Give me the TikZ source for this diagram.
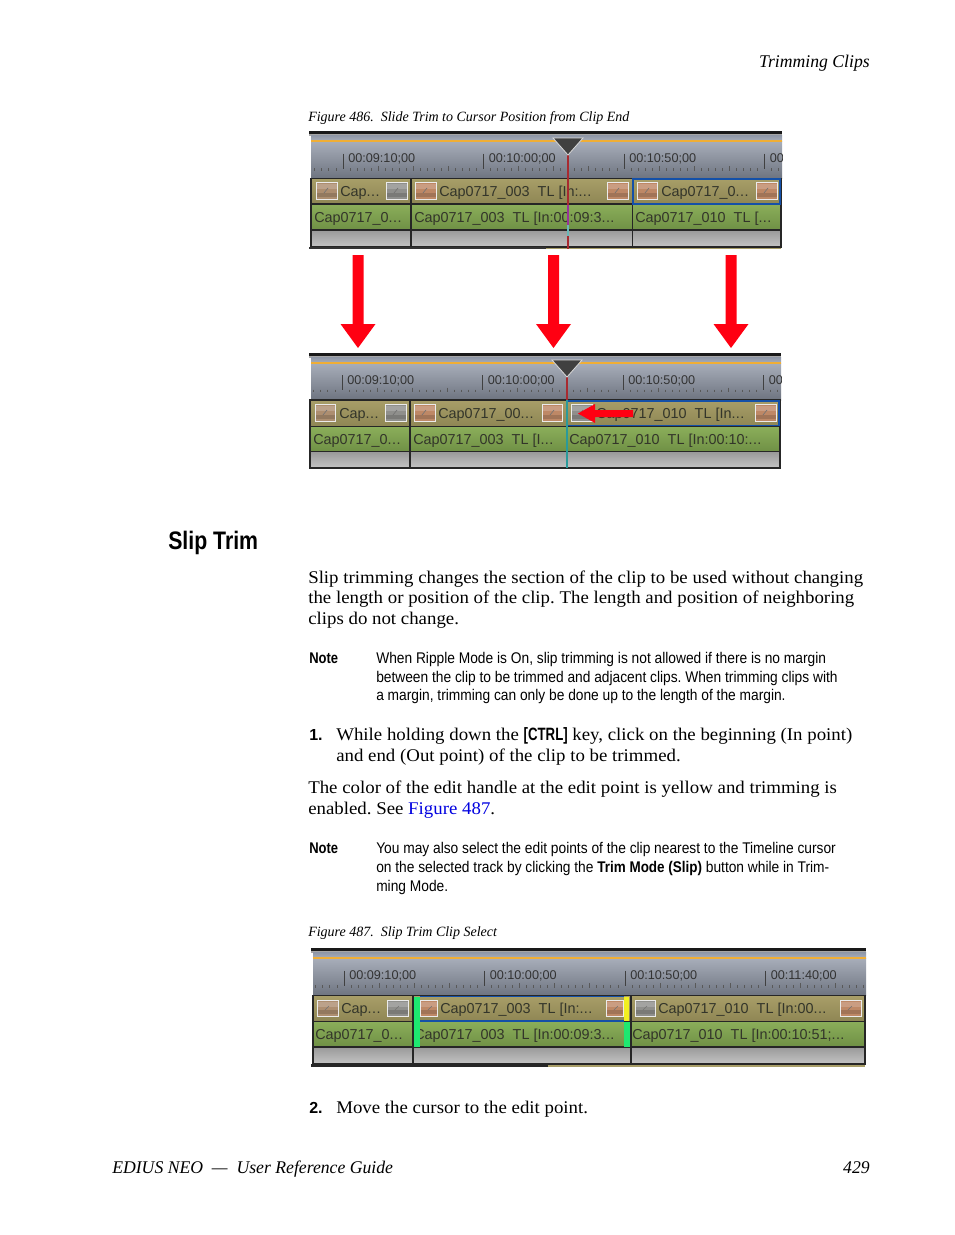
\documentclass[tikz,border=0pt]{standalone}
\usepackage{fontspec}
\setmainfont[FakeStretch=1.055,ItalicFeatures={FakeStretch=0.99}]{Liberation Serif}
\newfontfamily\nsans[FakeStretch=0.89,BoldFeatures={FakeStretch=0.87}]{Liberation Sans}
\newfontfamily\hsans[FakeStretch=0.84]{Liberation Sans}
\newfontfamily\ksans[FakeStretch=0.74]{Liberation Sans}
\newfontfamily\uisans{Liberation Sans}
\definecolor{rulerT}{HTML}{8E96A6}
\definecolor{rulerB}{HTML}{A8AEBA}
\definecolor{rulerD}{HTML}{6E7480}
\definecolor{orng}{HTML}{F0AE35}
\definecolor{oliveT}{HTML}{A89E68}
\definecolor{oliveB}{HTML}{8E8654}
\definecolor{greenT}{HTML}{8BAE5A}
\definecolor{greenB}{HTML}{6F9045}
\definecolor{grayT}{HTML}{999999}
\definecolor{grayB}{HTML}{C4C4C4}
\definecolor{txtui}{HTML}{33352A}
\definecolor{thA}{HTML}{BE8866}
\definecolor{thB}{HTML}{8F8F8C}
\definecolor{thC}{HTML}{AD8E70}
\definecolor{selblue}{HTML}{1450A8}
\definecolor{capred}{HTML}{FF0012}
\definecolor{lnk}{HTML}{0000E0}
\definecolor{cursorred}{HTML}{A82A30}
\definecolor{cursorteal}{HTML}{2A9A9A}
\definecolor{hgreen}{HTML}{1EE870}
\definecolor{hyellow}{HTML}{F2F020}
\newcommand{\dd}{.\hspace{0.03em}.\hspace{0.03em}.}
\tikzset{
  x=0.75pt,y=-0.75pt,
  bodytxt/.style={anchor=base west,inner sep=0,font=\fontsize{13.4}{15}\selectfont},
  figcap/.style={anchor=base west,inner sep=0,font=\fontsize{10.6}{12}\selectfont\itshape},
  notetxt/.style={anchor=base west,inner sep=0,font=\fontsize{11.6}{13}\selectfont\nsans},
  uitxt/.style={anchor=base west,inner sep=0,text=txtui,font=\fontsize{10.8}{12}\selectfont\uisans},
  rultxt/.style={anchor=base west,inner sep=0,text=black!80,font=\fontsize{9.5}{11}\selectfont\uisans},
  bigarrow/.style={fill=capred,draw=none},
  thumbf/.style={draw=white!92!black,line width=0.6pt},
  divline/.style={draw=black!85,line width=0.8pt},
}
% prefix, xL, xR, yTop, yOrange, yTrack, tick0, label4
\newcommand{\tlruler}[8]{%
  \fill[black!90] (#2,#4) rectangle (#3,#4+3);
  \fill[black!35] (#2,#4+3) rectangle (#3,#4+4.5);
  \shade[top color=rulerT,bottom color=rulerB] (#2+2,#4+4) rectangle (#3,#5);
  \shade[top color=rulerB,bottom color=rulerD] (#2+2,#5) rectangle (#3,#6);
  \draw[orng,line width=1.3pt] (#2+2,#5) -- (#3,#5);
  \begin{scope}
    \clip (#2+2,#4) rectangle (#3,#6);
    \foreach \k in {-1,0,1,2,3}{
      \draw[black!75,line width=0.7pt] ({#7+\k*140.5},{#6-25}) -- ({#7+\k*140.5},{#6-10});
      \foreach \m in {1,...,19}{
        \draw[black!65,line width=0.7pt] ({#7+\k*140.5+\m*7.025},{#6-(mod(\m,5)==0?12.5:10.5)}) -- ({#7+\k*140.5+\m*7.025},{#6-8});
      }
    }
    \node[rultxt] (#1l1) at (#7+5,#6-16) {00:09:10;00};
    \node[rultxt] (#1l2) at (#7+145.5,#6-16) {00:10:00;00};
    \node[rultxt] (#1l3) at (#7+286,#6-16) {00:10:50;00};
    \node[rultxt] (#1l4) at (#7+426.5,#6-16) {#8};
  \end{scope}
}
% xL xR y0 y1 y2 y3
\newcommand{\tracks}[6]{%
  \shade[top color=oliveT,bottom color=oliveB] (#1,#3) rectangle (#2,#4);
  \shade[top color=greenT,bottom color=greenB] (#1,#4) rectangle (#2,#5);
  \shade[top color=grayT,bottom color=grayB] (#1,#5) rectangle (#2,#6);
  \draw[divline] (#1,#3) rectangle (#2,#6);
  \draw[divline] (#1,#4) -- (#2,#4) (#1,#5) -- (#2,#5);
}
% x0 x1 y0 y1 colour
\newcommand{\thumb}[5]{%
  \fill[#5] (#1,#3) rectangle (#2,#4);
  \fill[#5!82!white] (#1,#3+2) rectangle (#2,#3+7);
  \fill[#5!85!black] (#1,#4-6) rectangle (#2,#4-2);
  \draw[black!55,line width=0.5pt] ({#1+8},{#4-6}) -- ({#1+12},{#3+6});
  \draw[thumbf] (#1,#3) rectangle (#2,#4);
}
% x-centre
\newcommand{\redarrow}[1]{%
  \fill[bigarrow] (#1-5.5,255) -- (#1+5.5,255) -- (#1+5.5,324) -- (#1+17.5,324) -- (#1,348) -- (#1-17.5,324) -- (#1-5.5,324) -- cycle;
}
% x-centre, top
\newcommand{\playhead}[2]{%
  \fill[black!75] (#1-15,#2) -- (#1+15,#2) -- (#1,#2+17) -- cycle;
  \draw[white!85!black,line width=0.6pt] (#1-15,#2) -- (#1+15,#2) -- (#1,#2+17) -- cycle;
}
\begin{document}
\frenchspacing
\begin{tikzpicture}
\useasboundingbox (0,0) rectangle (954,1235);
\fill[white] (0,0) rectangle (954,1235);

\node[anchor=base east,inner sep=0,font=\fontsize{13.4}{15}\selectfont\itshape] (hdr) at (870,67) {Trimming Clips};
\node[figcap] (cap486) at (308,121) {Figure 486.\ \ Slide Trim to Cursor Position from Clip End};

% ---------- Timeline 1
\tlruler{a}{309}{782}{131}{141}{178.5}{343}{00}
\tracks{311}{781}{178.5}{204}{230}{247}
\draw[divline] (411,178.5) -- (411,247) (632.5,178.5) -- (632.5,247);
\fill[black!80] (309,247) rectangle (546,249);
\fill[oliveT] (546,247.5) rectangle (781,249);
\thumb{316}{337}{182}{199}{thC}
\thumb{386}{407}{182}{199}{thB}
\thumb{415}{436}{182}{199}{thA}
\thumb{607}{628}{182}{199}{thA}
\thumb{637}{657}{182}{199}{thA}
\thumb{756}{777}{182}{199}{thA}
\draw[selblue,line width=0.8pt] (633,179) rectangle (780,204);
\node[uitxt] (a1) at (340,196) {Cap\dd};
\node[uitxt] (a2) at (439,196) {Cap0717\_003\ \ TL [In:\dd};
\node[uitxt] (a3) at (661,196) {Cap0717\_0\dd};
\node[uitxt] (a4) at (314,222) {Cap0717\_0\dd};
\node[uitxt] (a5) at (414,222) {Cap0717\_003\ \ TL [In:00:09:3\dd};
\node[uitxt] (a6) at (635,222) {Cap0717\_010\ \ TL [\dd};
\draw[cursorred,line width=0.9pt] (568,155) -- (568,205);
\draw[violet!80!white,line width=0.9pt] (568,205) -- (568,225);
\draw[cursorteal!70!white,line width=0.9pt] (568,225) -- (568,236);
\draw[cursorred,line width=0.9pt] (568,236) -- (568,249);
\playhead{568}{138}

% ---------- Arrows
\redarrow{358}
\redarrow{553.5}
\redarrow{731}

% ---------- Timeline 2
\tlruler{b}{309}{781}{353}{363}{400}{342}{00}
\tracks{310}{780}{400}{426.7}{451.7}{468}
\draw[divline] (410,400) -- (410,468) (567,400) -- (567,468);
\thumb{315}{335}{404}{421}{thC}
\thumb{385}{406}{404}{421}{thB}
\thumb{414}{435}{404}{421}{thA}
\thumb{542}{562}{404}{421}{thA}
\thumb{571}{592}{404}{421}{thB}
\thumb{755}{776}{404}{421}{thA}
\draw[selblue,line width=0.8pt] (567.5,401) rectangle (779,425.5);
\node[uitxt] (b1) at (339,418) {Cap\dd};
\node[uitxt] (b2) at (438,418) {Cap0717\_00\dd};
\node[uitxt] (b3) at (596,418) {Cap0717\_010\ \ TL [In\dd};
\node[uitxt] (b4) at (313,444) {Cap0717\_0\dd};
\node[uitxt] (b5) at (413,444) {Cap0717\_003\ \ TL [I\dd};
\node[uitxt] (b6) at (569,444) {Cap0717\_010\ \ TL [In:00:10:\dd};
\draw[cursorred,line width=0.9pt] (567,377) -- (567,400);
\draw[cursorteal,line width=0.9pt] (567,400) -- (567,468);
\playhead{567}{360}
\fill[bigarrow] (578,413.5) -- (595,404) -- (595,410) -- (633,410) -- (633,417) -- (595,417) -- (595,423) -- cycle;

% ---------- Heading and text
\node[anchor=base west,inner sep=0,font=\fontsize{19}{22}\selectfont\bfseries\hsans] (sliph) at (168,549) {Slip Trim};
\node[bodytxt] (p1) at (308,583) {Slip trimming changes the section of the clip to be used without changing};
\node[bodytxt] (p2) at (308,603) {the length or position of the clip. The length and position of neighboring};
\node[bodytxt] (p3) at (308,624) {clips do not change.};

\node[notetxt,font=\fontsize{11.6}{13}\selectfont\bfseries\hsans] (n1) at (309,663) {Note};
\node[notetxt] (n1a) at (376,663) {When Ripple Mode is On, slip trimming is not allowed if there is no margin};
\node[notetxt] (n1b) at (376,682) {between the clip to be trimmed and adjacent clips. When trimming clips with};
\node[notetxt] (n1c) at (376,700) {a margin, trimming can only be done up to the length of the margin.};

\node[notetxt,font=\fontsize{12}{13}\selectfont\bfseries\uisans] (i1) at (309,740) {1.};
\node[bodytxt] (i1a) at (336,740) {While holding down the {\bfseries\ksans [CTRL]} key, click on the beginning (In point)};
\node[bodytxt] (i1b) at (336,761) {and end (Out point) of the clip to be trimmed.};

\node[bodytxt] (c1) at (308,793) {The color of the edit handle at the edit point is yellow and trimming is};
\node[bodytxt] (c2) at (308,814) {enabled. See \textcolor{lnk}{Figure 487}.};

\node[notetxt,font=\fontsize{11.6}{13}\selectfont\bfseries\hsans] (n2) at (309,853) {Note};
\node[notetxt] (n2a) at (376,853) {You may also select the edit points of the clip nearest to the Timeline cursor};
\node[notetxt] (n2b) at (376,872) {on the selected track by clicking the {\bfseries Trim Mode (Slip)} button while in Trim-};
\node[notetxt] (n2c) at (376,891) {ming Mode.};

\node[figcap] (cap487) at (308,936) {Figure 487.\ \ Slip Trim Clip Select};

% ---------- Timeline 3
\tlruler{c}{311}{866}{948}{958}{995.7}{344}{00:11:40;00}
\tracks{313}{865}{995.7}{1021.5}{1047}{1064}
\fill[black!85] (311,1064) rectangle (548,1066.5);
\fill[oliveT] (548,1064.5) rectangle (865,1066.5);
\fill[hgreen] (414,996.5) rectangle (420,1047);
\fill[hgreen] (623.5,1021.5) rectangle (630,1047);
\fill[hyellow] (623.5,996.5) rectangle (628.5,1021);
\draw[divline] (413,995.7) -- (413,1064) (631,995.7) -- (631,1064);
\thumb{317}{338}{1000}{1016}{thC}
\thumb{387}{408}{1000}{1016}{thB}
\thumb{420}{437}{1000}{1016}{thA}
\thumb{606}{623}{1000}{1016}{thA}
\thumb{635}{655.5}{1000}{1016}{thB}
\thumb{840}{861}{1000}{1016}{thA}
\draw[selblue,line width=0.8pt] (420,996.5) -- (623.5,996.5) (420,1021) -- (623.5,1021);
\node[uitxt] (c1t) at (341,1013) {Cap\dd};
\node[uitxt] (c2t) at (440,1013) {Cap0717\_003\ \ TL [In:\dd};
\node[uitxt] (c3t) at (658,1013) {Cap0717\_010\ \ TL [In:00\dd};
\node[uitxt] (c4t) at (315,1039) {Cap0717\_0\dd};
\begin{scope}
\clip (420,1022) rectangle (623,1047);
\node[uitxt] (c5t) at (414,1039) {Cap0717\_003\ \ TL [In:00:09:3\dd};
\end{scope}
\node[uitxt] (c6t) at (632,1039) {Cap0717\_010\ \ TL [In:00:10:51;\dd};

\node[notetxt,font=\fontsize{12}{13}\selectfont\bfseries\uisans] (i2) at (309,1113) {2.};
\node[bodytxt] (i2a) at (336,1113) {Move the cursor to the edit point.};

\node[anchor=base west,inner sep=0,font=\fontsize{13.4}{15}\selectfont\itshape] (ftl) at (112,1173) {EDIUS NEO\ \ ---\ \ User Reference Guide};
\node[anchor=base east,inner sep=0,font=\fontsize{13.4}{15}\selectfont\itshape] (ftr) at (870,1173) {429};
\end{tikzpicture}
\end{document}
